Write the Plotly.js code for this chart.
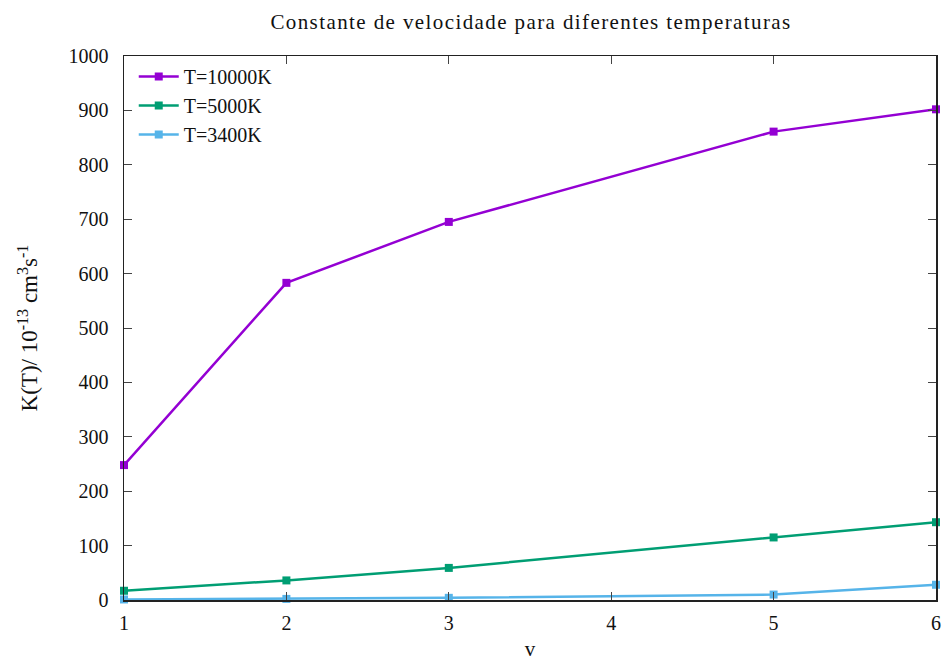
<!DOCTYPE html>
<html>
<head>
<meta charset="utf-8">
<script src="https://cdn.plot.ly/plotly-3.0.1.min.js"></script>
<style>
html,body{margin:0;padding:0;background:#fff;}
#chart{width:944px;height:661px;}
#chart .gtitle{letter-spacing:1.4px;}
</style>
</head>
<body>
<div id="chart"></div>
<script>
const vLevels = [1, 2, 3, 5, 6];
const k10000 = [248, 583, 695, 861, 902];
const k5000 = [17, 36, 59, 115, 143];
const k3400 = [1, 2, 4, 10, 28];
const seriesNames = ['T=10000K', 'T=5000K', 'T=3400K'];
const seriesColors = ['#9400d3', '#009e73', '#56b4e9'];
const seriesValues = [k10000, k5000, k3400];

const serif = 'Liberation Serif, Times New Roman, serif';
const traces = seriesValues.map((vals, i) => ({
  x: vLevels, y: vals, name: seriesNames[i], type: 'scatter', mode: 'lines+markers',
  line: {color: seriesColors[i], width: 2.5},
  marker: {symbol: 'square', size: 8, color: seriesColors[i]},
  cliponaxis: false
}));

const axisCommon = {
  showline: true, linecolor: '#222', linewidth: 1.5, mirror: 'ticks',
  ticks: 'inside', ticklen: 8, tickcolor: '#444', tickwidth: 1,
  showgrid: false, zeroline: false,
  tickfont: {family: serif, size: 20, color: '#111'}
};

const layout = {
  width: 944, height: 661,
  margin: {l: 124, r: 8, t: 56, b: 61},
  paper_bgcolor: '#fff', plot_bgcolor: '#fff',
  title: {text: 'Constante de velocidade para diferentes temperaturas', x: 0.5625, xanchor: 'center', y: 0.967, yanchor: 'middle',
          font: {family: serif, size: 21, color: '#111'}},
  xaxis: Object.assign({}, axisCommon, {range: [1, 6], dtick: 1, tick0: 1, ticklabelstandoff: 4,
    title: {text: 'v', font: {family: serif, size: 21, color: '#111'}, standoff: 20}}),
  yaxis: Object.assign({}, axisCommon, {range: [0, 1000], dtick: 100, tick0: 0, ticklabelstandoff: 10,
    title: {text: 'K(T)/ 10<sup>-13</sup> cm<sup>3</sup>s<sup>-1</sup>', font: {family: serif, size: 23, color: '#111'}, standoff: 24}}),
  showlegend: true,
  legend: {x: 0.012, y: 0.998, xanchor: 'left', yanchor: 'top', bgcolor: 'rgba(0,0,0,0)',
    font: {family: serif, size: 20, color: '#111'}, tracegroupgap: 0, itemwidth: 40}
};

Plotly.newPlot('chart', traces, layout, {displayModeBar: false, staticPlot: true});
</script>
</body>
</html>
